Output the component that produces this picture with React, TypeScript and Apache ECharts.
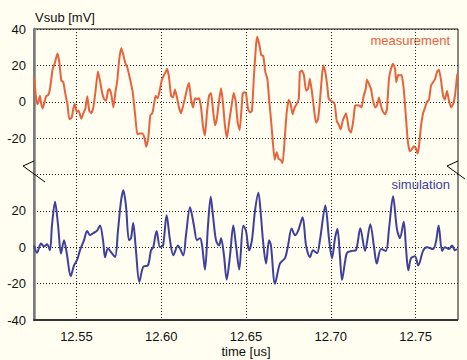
import React, { useEffect, useRef } from 'react';
import * as echarts from 'echarts';

// x axis (time in us)
const xMin = 12.525;
const xMax = 12.775;
const xTicks = [12.55, 12.6, 12.65, 12.7, 12.75];

// y axis: one stacked scale, measurement drawn with an offset of 80 mV
const yMin = -40;
const yMax = 120;
const yStep = 20;
const yTickLabels = ['-40', '-20', '0', '20', '', '-20', '0', '20', '40'];
const MEAS_OFFSET = 80;

// measurement (mV)
const measTime = [
  12.525, 12.5262, 12.527, 12.5278, 12.5285, 12.5293, 12.5301, 12.5309, 12.5321, 12.5334,
  12.5344, 12.536, 12.5372, 12.5388, 12.5399, 12.5411, 12.5423, 12.5435, 12.5447, 12.5458,
  12.5472, 12.5482, 12.549, 12.5502, 12.5513, 12.5529, 12.5541, 12.5553, 12.5564, 12.5576,
  12.5588, 12.56, 12.5612, 12.5627, 12.5639, 12.5651, 12.5663, 12.5675, 12.5686, 12.5694,
  12.5706, 12.5718, 12.573, 12.5741, 12.5753, 12.5765, 12.5777, 12.5789, 12.58, 12.5816,
  12.5832, 12.5847, 12.5859, 12.5873, 12.5889, 12.5901, 12.5912, 12.5924, 12.5936, 12.5948,
  12.596, 12.5967, 12.5979, 12.5991, 12.6003, 12.6015, 12.6026, 12.6034, 12.6046, 12.6058,
  12.607, 12.6081, 12.6093, 12.6105, 12.6117, 12.6129, 12.614, 12.6152, 12.6164, 12.6176,
  12.6188, 12.6199, 12.6211, 12.6223, 12.6235, 12.6246, 12.6258, 12.627, 12.6282, 12.6294,
  12.6305, 12.6317, 12.6329, 12.6341, 12.6353, 12.6364, 12.6376, 12.6388, 12.64, 12.6415,
  12.6427, 12.6439, 12.6451, 12.6463, 12.648, 12.6488, 12.65, 12.6512, 12.6524, 12.6535,
  12.6547, 12.6559, 12.6567, 12.6579, 12.659, 12.6602, 12.6614, 12.6626, 12.6638, 12.6649,
  12.6657, 12.6669, 12.6681, 12.6693, 12.6704, 12.6716, 12.6728, 12.674, 12.6752, 12.6763,
  12.6775, 12.6787, 12.6799, 12.6811, 12.6818, 12.683, 12.6842, 12.6854, 12.6866, 12.6877,
  12.6889, 12.6901, 12.6913, 12.6925, 12.6936, 12.6948, 12.6956, 12.6968, 12.698, 12.6987,
  12.6999, 12.7011, 12.7023, 12.7035, 12.7046, 12.7058, 12.707, 12.7082, 12.709, 12.7107,
  12.7119, 12.7131, 12.7143, 12.7154, 12.717, 12.7182, 12.7194, 12.7206, 12.7213, 12.7225,
  12.7237, 12.7249, 12.7261, 12.7272, 12.7284, 12.7296, 12.7308, 12.732, 12.7331, 12.7343,
  12.7355, 12.7367, 12.7379, 12.7386, 12.7398, 12.741, 12.7418, 12.743, 12.7441, 12.7453,
  12.7465, 12.7477, 12.7489, 12.7501, 12.7512, 12.752, 12.7532, 12.7544, 12.7556, 12.7567,
  12.7579, 12.7591, 12.7603, 12.7615, 12.7626, 12.7638, 12.765, 12.7662, 12.7673, 12.7685,
  12.7697, 12.7709, 12.7721, 12.7732, 12.7746,
];
const measVal = [
  13.5, 2.4, -1.3, 0.5, 3.3, -1.3, -3.7, -1.3, 3.0, 3.7,
  7.0, 18.0, 21.0, 26.5, 22.0, 11.7, 10.7, 4.3, -1.3, -9.6,
  -8.7, -3.7, -1.3, -5.6, -5.0, -9.3, -6.3, -3.7, 3.0, -5.0,
  -6.3, -3.1, 5.2, 16.7, 11.7, 5.2, 1.5, 0.5, 6.1, 7.0,
  3.9, -3.1, 5.2, 11.7, 23.7, 29.6, 25.6, 21.0, 19.0, 12.6,
  5.2, -7.8, -18.0, -17.4, -17.4, -19.8, -24.8, -19.8, -7.4, -6.3,
  0.0, 3.3, 1.9, 6.1, 11.7, 14.4, 16.3, 18.1, 13.5, 3.3,
  2.4, 6.7, 2.4, -3.1, -6.3, -2.2, 1.9, 7.0, 10.4, 1.5,
  -3.1, 1.9, 1.5, 1.9, -3.1, -13.3, -18.5, -5.9, 3.3, 4.8,
  -4.1, -13.0, -8.7, 0.5, 7.4, -0.4, -13.3, -19.8, -11.5, -2.2,
  4.8, 0.5, -11.5, -15.6, 4.3, 5.2, 4.8, -4.1, -5.9, -5.0,
  14.4, 31.1, 35.7, 31.1, 25.6, 25.2, 16.3, 12.6, -0.4, -11.5,
  -20.7, -31.9, -27.8, -31.5, -31.9, -33.7, -20.7, -5.9, 1.1, -1.3,
  -6.9, -3.1, -1.3, 1.5, 16.3, 17.2, 14.4, 6.1, 7.0, 12.6,
  5.2, -4.1, -11.5, -9.6, 0.5, 14.4, 20.0, 16.3, 8.0, 1.9,
  0.5, 0.0, -1.3, -10.6, -12.4, -15.2, -10.6, -7.8, -6.3, -15.2,
  -17.0, -11.5, -2.2, -1.9, -2.2, -3.1, 3.3, 7.0, 12.2, 9.8,
  7.0, 0.5, -3.1, -2.2, 2.4, -2.2, -5.6, -6.9, -4.1, 12.6,
  18.1, 20.9, 18.1, 10.7, 14.8, 14.4, 14.8, 7.0, -5.9, -20.7,
  -27.2, -26.3, -24.4, -25.4, -28.5, -24.4, -13.3, -6.3, -3.1, 0.0,
  1.1, 8.9, 10.7, 12.6, 16.3, 17.8, 11.7, 3.3, 1.1, 6.1,
  0.5, -3.1, -1.3, 3.3, 15.4,
];

// simulation (mV)
const simTime = [
  12.525, 12.5268, 12.5291, 12.5309, 12.5327, 12.5344, 12.5356, 12.5374, 12.5392, 12.5409,
  12.5427, 12.5445, 12.5466, 12.5486, 12.5504, 12.5521, 12.5545, 12.5563, 12.558, 12.5598,
  12.5621, 12.5639, 12.5657, 12.5669, 12.5686, 12.5704, 12.5728, 12.5745, 12.5763, 12.5777,
  12.5792, 12.581, 12.5822, 12.5835, 12.5851, 12.5871, 12.5894, 12.5922, 12.594, 12.5953,
  12.5973, 12.5993, 12.6011, 12.6032, 12.6052, 12.6071, 12.6099, 12.613, 12.6146, 12.617,
  12.6193, 12.6211, 12.6229, 12.6241, 12.6258, 12.6276, 12.6292, 12.6305, 12.6323, 12.6341,
  12.6353, 12.637, 12.6386, 12.6406, 12.6425, 12.6441, 12.646, 12.6484, 12.65, 12.6518,
  12.6535, 12.6553, 12.6573, 12.6588, 12.66, 12.6618, 12.6636, 12.6647, 12.6671, 12.67,
  12.673, 12.6748, 12.6769, 12.6789, 12.6807, 12.6834, 12.6854, 12.6877, 12.6895, 12.6919,
  12.6936, 12.6968, 12.6989, 12.7007, 12.7025, 12.7039, 12.7054, 12.7066, 12.7084, 12.7096,
  12.7125, 12.7149, 12.7174, 12.7202, 12.7233, 12.7255, 12.7271, 12.7296, 12.7325, 12.7343,
  12.7367, 12.739, 12.7408, 12.743, 12.7443, 12.7457, 12.7473, 12.7496, 12.7516, 12.7544,
  12.7567, 12.7603, 12.762, 12.7636, 12.7656, 12.7673, 12.7697, 12.7715, 12.7732, 12.7744,
];
const simVal = [
  1, -3, 2, 0.5, 1.6, -1.7, 12, 25, 12, -3.5,
  3.9, -4.4, -16, -10, -7, -1.7, 3.9, 9, 6.6, 7.7,
  9, 12, 3.9, -5.5, -0.5, -2.7, -5.3, 9, 25.3, 31.3,
  23, 3.9, 5, 13.4, -1.7, -19, -10.8, -9.9, -1.7, 0,
  9, 0, 1, 17.6, 3.9, -4.4, 1, -4.4, 6.6, 22,
  12, 3.9, 5, 1, -12.3, 12, 27.7, 17.6, 3.9, 1,
  5, -4.4, -17.8, -4.4, 12, 1, -12.3, 12, 9, -1.7,
  3.9, 20, 29.9, 17.6, 3.9, -9, 3.9, 1, -20, -9,
  -6, 1, 10.3, 6.6, 9, 16.5, 1, -5.5, -1.7, -3.3,
  3.9, 23, 5, -6, 5, 10, -5, -18, -8, -3,
  -2, -1.5, 10.4, -2, 12.7, 0, -9, -1, -2, 10,
  28, 10, 5, 14, 0, -12.6, -6, -5, -10, -2,
  0, -1, 3, 12, -2, 0, -1, 1, -1.7, -1,
];

const MEAS_COLOR = '#e8623c';
const SIM_COLOR = '#3f3f9c';
const BG = '#fffef0';
const FONT = '"Liberation Sans", Arial, sans-serif';

export default function App() {
  const ref = useRef<HTMLDivElement>(null);
  useEffect(() => {
    const chart = echarts.init(ref.current!, null, { renderer: 'svg' });
    const gridLine = { show: true, lineStyle: { color: '#222', width: 1, type: [1, 2] as any } };
    chart.setOption({
      animation: false,
      backgroundColor: BG,
      grid: {
        left: 34, top: 29, width: 424, height: 291,
        show: true, borderColor: '#111', borderWidth: 1, backgroundColor: 'transparent',
        containLabel: false, outerBoundsMode: 'none',
      },
      xAxis: {
        type: 'value',
        min: xMin,
        max: xMax,
        axisLine: { show: true, onZero: false, lineStyle: { color: '#333', width: 2, type: [3, 1] as any } },
        axisTick: { show: false, customValues: xTicks },
        axisLabel: {
          customValues: xTicks,
          formatter: (v: number) => v.toFixed(2),
          color: '#111',
          fontSize: 13,
          fontFamily: FONT,
          margin: 10,
        },
        splitLine: gridLine,
      },
      yAxis: {
        type: 'value',
        min: yMin,
        max: yMax,
        interval: yStep,
        axisLine: { show: true, onZero: false, lineStyle: { color: '#7a7a7a', width: 2.5 } },
        axisTick: { show: false },
        axisLabel: {
          formatter: (v: number) => yTickLabels[Math.round((v - yMin) / yStep)] ?? '',
          color: '#111',
          fontSize: 13,
          fontFamily: FONT,
          margin: 8,
        },
        splitLine: gridLine,
      },
      graphic: [
        { type: 'text', left: 35, top: 11, style: { text: 'Vsub [mV]', fill: '#111', font: `13px ${FONT}` } },
        { type: 'text', x: 246, y: 351, style: { text: 'time [us]', fill: '#111', font: `13px ${FONT}`, align: 'center', verticalAlign: 'middle' } },
        { type: 'text', right: 17, top: 34, style: { text: 'measurement', fill: MEAS_COLOR, font: `13px ${FONT}` } },
        { type: 'text', right: 17, top: 178, style: { text: 'simulation', fill: SIM_COLOR, font: `13px ${FONT}` } },
        { type: 'polyline', shape: { points: [[34, 161], [23, 166], [45, 182]] }, style: { stroke: '#000', lineWidth: 1, fill: 'none' }, z: 10 },
        { type: 'polyline', shape: { points: [[458, 161], [447, 166], [465, 179]] }, style: { stroke: '#000', lineWidth: 1, fill: 'none' }, z: 10 },
      ],
      series: [
        {
          name: 'measurement',
          type: 'line',
          showSymbol: false,
          smooth: 0.15,
          data: measTime.map((t, i) => [t, measVal[i] + MEAS_OFFSET]),
          lineStyle: { color: MEAS_COLOR, width: 2 },
          z: 3,
        },
        {
          name: 'simulation',
          type: 'line',
          showSymbol: false,
          smooth: 0.3,
          data: simTime.map((t, i) => [t, simVal[i]]),
          lineStyle: { color: SIM_COLOR, width: 2 },
          z: 3,
        },
      ],
    });
    return () => chart.dispose();
  }, []);
  return (
    <div
      ref={ref}
      style={{ position: 'absolute', left: 0, top: 0, width: 467, height: 360, background: BG }}
    />
  );
}
